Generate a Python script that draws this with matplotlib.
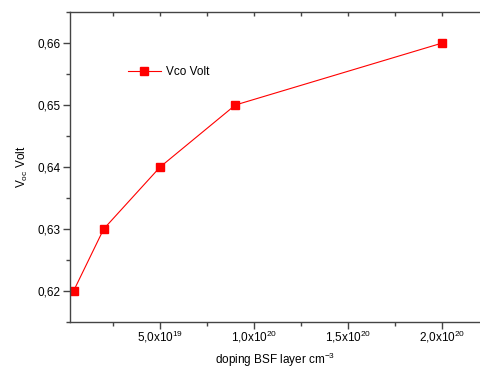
import matplotlib
matplotlib.use('Agg')
import matplotlib.pyplot as plt
from matplotlib.ticker import FuncFormatter, MultipleLocator

# datos
doping = [4e18, 2e19, 5e19, 9e19, 2e20]
voc = [0.62, 0.63, 0.64, 0.65, 0.66]
x_ticks = [5e19, 1e20, 1.5e20, 2e20]
y_ticks = [0.62, 0.63, 0.64, 0.65, 0.66]

plt.rcParams['font.family'] = ['Liberation Sans', 'DejaVu Sans']
plt.rcParams['font.size'] = 8.5
plt.rcParams['mathtext.fontset'] = 'custom'
plt.rcParams['mathtext.rm'] = 'Liberation Sans'
plt.rcParams['mathtext.it'] = 'Liberation Sans'

fig = plt.figure(figsize=(4.8, 3.74), dpi=100)
ax = fig.add_axes([70/480, 1-322/374, 1-70/480, 310/374])

ax.plot(doping, voc, color='red', lw=0.8, marker='s', markersize=5.5,
        markeredgecolor='red', label='Vco Volt')

ax.set_xlim(2.1e18, 2.2e20)
ax.set_ylim(0.615, 0.665)

def fmt_x(v, pos):
    exp = 19 if v < 1e20 else 20
    mant = v / 10**exp
    return ('%.1f' % mant).replace('.', ',') + 'x10$^{\\mathregular{%d}}$' % exp

ax.set_xticks(x_ticks)
ax.xaxis.set_minor_locator(MultipleLocator(2.5e19))
ax.xaxis.set_major_formatter(FuncFormatter(fmt_x))
ax.set_yticks(y_ticks)
ax.yaxis.set_minor_locator(MultipleLocator(0.005))
ax.yaxis.set_major_formatter(FuncFormatter(lambda v, p: ('%.2f' % v).replace('.', ',')))

spc = '#444444'
for s in ['left', 'bottom', 'top']:
    ax.spines[s].set_color(spc)
    ax.spines[s].set_linewidth(1.0)
ax.spines['right'].set_visible(False)

ax.tick_params(which='major', direction='out', length=5, width=1, color=spc, pad=2)
ax.tick_params(which='minor', direction='out', length=3, width=1, color=spc)
ax.tick_params(axis='x', which='major', pad=0)

# ticks arriba hacia adentro
top = ax.secondary_xaxis('top')
top.xaxis.set_major_locator(MultipleLocator(5e19))
top.xaxis.set_minor_locator(MultipleLocator(2.5e19))
top.tick_params(which='both', direction='in', length=3, width=1, color=spc, labeltop=False)
top.spines['top'].set_visible(False)

ax.set_xlabel('doping BSF layer cm$^{\\mathregular{-3}}$', labelpad=4)
ax.set_ylabel('V$_{\\mathregular{oc}}$ Volt', labelpad=5)

ax.legend(loc='upper left', bbox_to_anchor=(0.115, 0.86), frameon=False,
          handlelength=2.8, handletextpad=0.4, fontsize=8.5)

fig.savefig('out.png', dpi=100)
